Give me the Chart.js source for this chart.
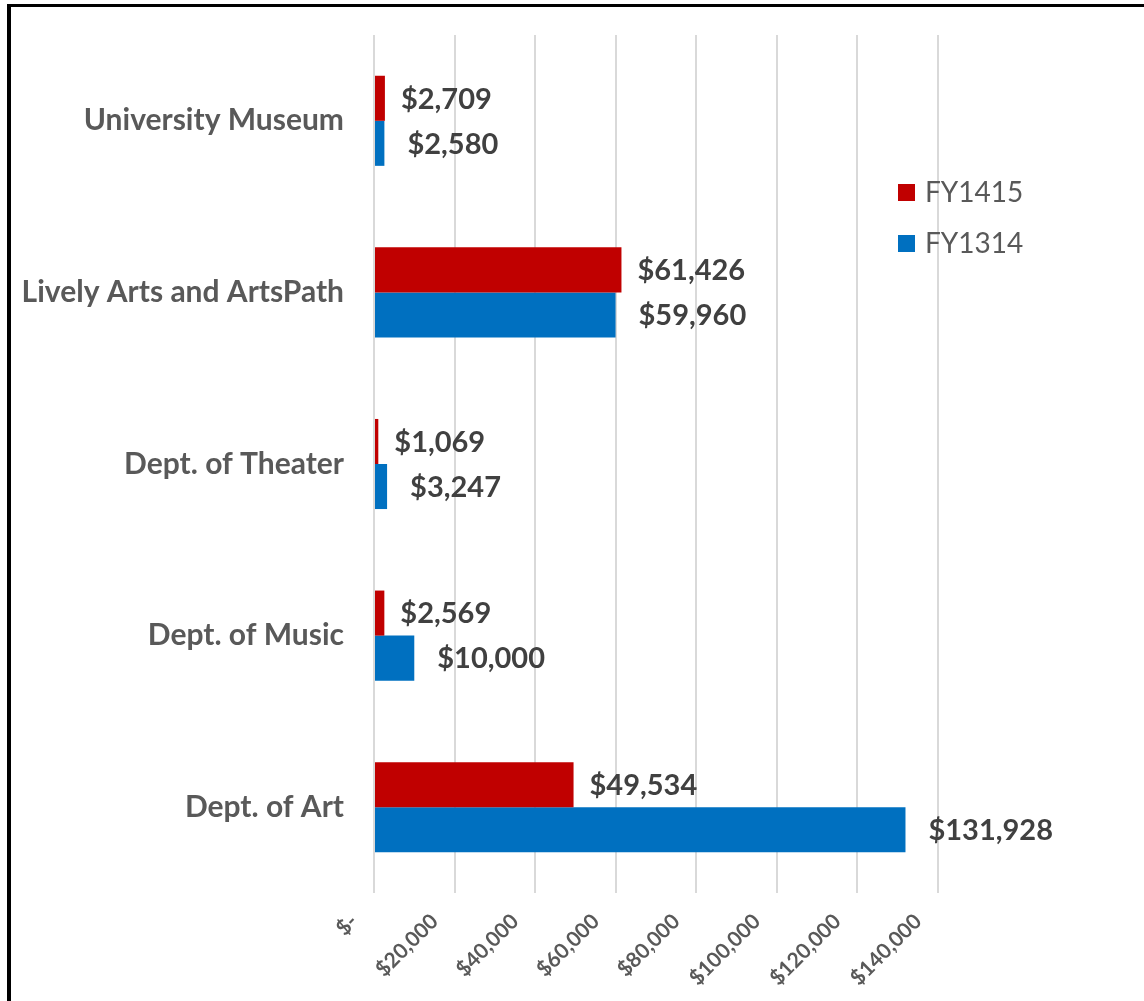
<!DOCTYPE html>
<html>
<head>
<meta charset="utf-8">
<script src="https://cdn.jsdelivr.net/npm/chart.js@4/dist/chart.umd.min.js"></script>
<style>
  body { margin: 0; background: #fff; overflow: hidden; }
  #frame {
    position: absolute; left: 7px; top: 4px; width: 1200px; height: 1100px;
    border-left: 4px solid #000; border-top: 3px solid #000;
  }
  #chart { position: absolute; left: 0; top: 0; }
</style>
</head>
<body>
<div id="frame"></div>
<canvas id="chart" width="1144" height="1001"></canvas>
<script>
// Données du graphique
const categories = ['University Museum', 'Lively Arts and ArtsPath', 'Dept. of Theater', 'Dept. of Music', 'Dept. of Art'];
const fy1415 = [2709, 61426, 1069, 2569, 49534];
const fy1314 = [2580, 59960, 3247, 10000, 131928];
const seriesNames = ['FY1415', 'FY1314'];
const xMax = 140000;
const xStep = 20000;

const RED = '#C00000';
const BLUE = '#0070C0';

function money(v) {
  return v === 0 ? '$-' : '$' + v.toLocaleString('en-US');
}

// Étiquettes de valeurs au bout des barres
const valueLabels = {
  id: 'valueLabels',
  afterDatasetsDraw(chart) {
    const ctx = chart.ctx;
    ctx.save();
    ctx.font = 'bold 29px Lato';
    ctx.fillStyle = '#404040';
    ctx.textAlign = 'left';
    ctx.textBaseline = 'middle';
    chart.data.datasets.forEach((ds, i) => {
      const gap = i === 0 ? 16 : 23;
      chart.getDatasetMeta(i).data.forEach((bar, j) => {
        ctx.fillText(money(ds.data[j]), bar.x + gap, bar.y + 1);
      });
    });
    ctx.restore();
  }
};

// Légende dessinée à la main (elle chevauche la zone du graphique)
const insideLegend = {
  id: 'insideLegend',
  afterDraw(chart) {
    const ctx = chart.ctx;
    const area = chart.chartArea;
    const x = area.right - 40;
    let y = area.top + 149;
    ctx.save();
    ctx.font = '28px Lato';
    ctx.textBaseline = 'middle';
    chart.data.datasets.forEach(ds => {
      ctx.fillStyle = ds.backgroundColor;
      ctx.fillRect(x, y, 17, 17);
      ctx.fillStyle = '#595959';
      ctx.fillText(ds.label, x + 27, y + 9);
      y += 51;
    });
    ctx.restore();
  }
};

new Chart(document.getElementById('chart').getContext('2d'), {
  type: 'bar',
  data: {
    labels: categories,
    datasets: [
      { label: seriesNames[0], data: fy1415, backgroundColor: RED, borderWidth: 0 },
      { label: seriesNames[1], data: fy1314, backgroundColor: BLUE, borderWidth: 0 }
    ]
  },
  options: {
    indexAxis: 'y',
    responsive: false,
    animation: false,
    layout: { padding: { left: 0, right: 206, top: 35, bottom: 0 } },
    datasets: { bar: { barPercentage: 1, categoryPercentage: 0.525 } },
    scales: {
      x: {
        min: 0,
        max: xMax,
        afterFit: s => { s.height = 108; },
        border: { display: false },
        grid: { color: '#d9d9d9', lineWidth: 2, drawTicks: false },
        ticks: {
          stepSize: xStep,
          minRotation: 45,
          maxRotation: 45,
          padding: 16,
          labelOffset: -20,
          color: '#595959',
          font: { family: 'Lato', weight: 'bold', size: 21 },
          callback: v => money(v)
        }
      },
      y: {
        // largeur fixe + pas de marge auto en haut/bas
        afterFit: s => { s.width = 374; s.paddingTop = 0; s.paddingBottom = 0; },
        border: { display: false },
        grid: { display: false },
        ticks: {
          padding: 22,
          color: '#595959',
          font: { family: 'Lato', weight: 'bold', size: 30 }
        }
      }
    },
    plugins: {
      legend: { display: false },
      tooltip: { enabled: false }
    }
  },
  plugins: [valueLabels, insideLegend]
});
</script>
</body>
</html>
